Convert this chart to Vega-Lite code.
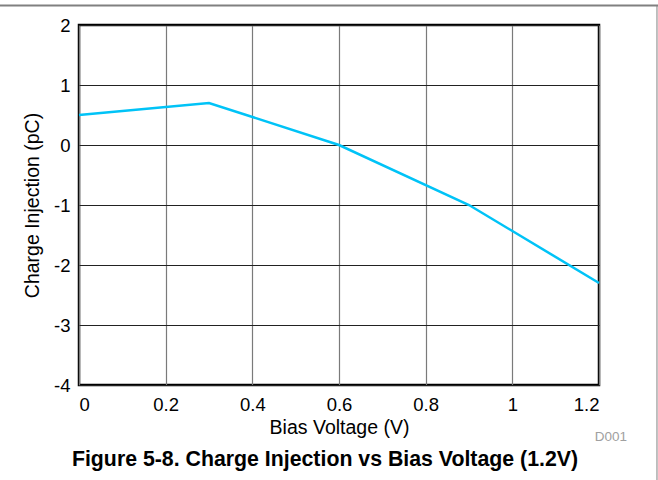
{
  "$schema": "https://vega.github.io/schema/vega-lite/v6.json",
  "width": 520,
  "height": 360,
  "autosize": "none",
  "padding": {"left": 79, "top": 25, "right": 59, "bottom": 95},
  "background": "white",
  "config": {
    "font": "Liberation Sans",
    "view": {"stroke": "black", "strokeWidth": 2.5},
    "axis": {"labelFont": "Liberation Sans", "titleFont": "Liberation Sans", "labelColor": "black", "titleColor": "black", "titleFontWeight": "normal", "domain": false, "ticks": false}
  },
  "title": {
    "text": "Figure 5-8. Charge Injection vs Bias Voltage (1.2V)",
    "orient": "bottom",
    "anchor": "middle",
    "fontSize": 21.3,
    "fontWeight": "bold",
    "font": "Liberation Sans",
    "color": "black",
    "offset": -33,
    "dx": -14
  },
  "datasets": {
    "curve": [
      {"bias": 0.0, "charge": 0.5},
      {"bias": 0.3, "charge": 0.7},
      {"bias": 0.6, "charge": 0.0},
      {"bias": 0.9, "charge": -1.0},
      {"bias": 1.2, "charge": -2.3}
    ],
    "note": [{"bias": 1.2, "charge": -4, "label": "D001"}]
  },
  "layer": [
    {
      "data": {"name": "curve"},
      "mark": {"type": "line", "color": "#00c3f7", "strokeWidth": 2.5},
      "encoding": {
        "x": {
          "field": "bias", "type": "quantitative",
          "scale": {"domain": [0, 1.2], "nice": false, "zero": false},
          "axis": {
            "title": "Bias Voltage (V)",
            "values": [0, 0.2, 0.4, 0.6, 0.8, 1, 1.2],
            "format": "~g",
            "labelFontSize": 18.5,
            "titleFontSize": 19.5,
            "labelPadding": 10,
            "titlePadding": 5,
            "grid": true,
            "gridColor": "#7a7a7a",
            "gridWidth": 1.2,
            "gridOpacity": 1
          }
        },
        "y": {
          "field": "charge", "type": "quantitative",
          "scale": {"domain": [-4, 2], "nice": false, "zero": false},
          "axis": {
            "title": "Charge Injection (pC)",
            "values": [-4, -3, -2, -1, 0, 1, 2],
            "labelExpr": "'' + datum.value",
            "labelFontSize": 18.5,
            "titleFontSize": 19.5,
            "labelPadding": 9,
            "titlePadding": 11,
            "grid": true,
            "gridColor": "#222222",
            "gridWidth": 1.2,
            "gridOpacity": 1
          }
        }
      }
    },
    {
      "data": {"name": "note"},
      "mark": {"type": "text", "color": "#a0a0a0", "fontSize": 13.5, "font": "Liberation Sans", "dx": 12, "dy": 52, "baseline": "middle", "align": "center"},
      "encoding": {
        "x": {"field": "bias", "type": "quantitative"},
        "y": {"field": "charge", "type": "quantitative"},
        "text": {"field": "label"}
      }
    },
    {
      "data": {"values": [{}]},
      "mark": {"type": "rule", "color": "#808080", "strokeWidth": 2, "clip": false},
      "encoding": {
        "x": {"datum": -0.19},
        "x2": {"datum": 1.34},
        "y": {"datum": 2.325}
      }
    },
    {
      "data": {"values": [{}]},
      "mark": {"type": "rule", "color": "#808080", "strokeWidth": 1, "clip": false},
      "encoding": {
        "x": {"datum": 1.3338},
        "y": {"datum": 2.333},
        "y2": {"datum": -5.6}
      }
    }
  ]
}
